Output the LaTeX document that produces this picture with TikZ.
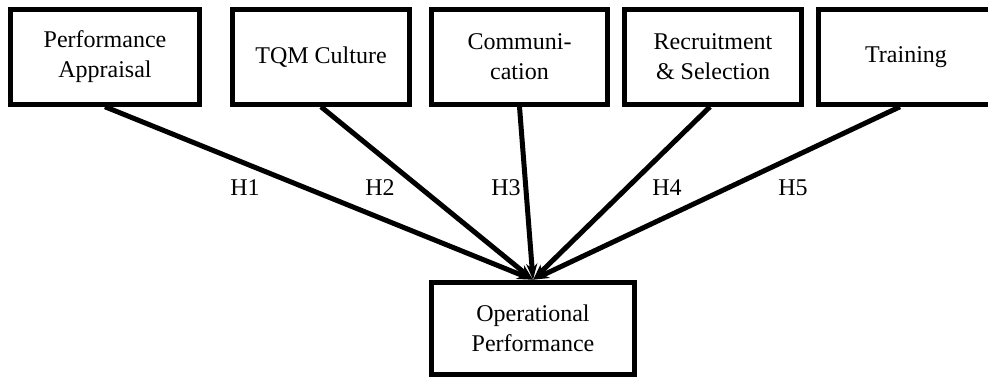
\documentclass[tikz,border=0pt]{standalone}
\usepackage{fontspec}
\setmainfont{Liberation Serif}
\usetikzlibrary{arrows.meta}
\begin{document}
\begin{tikzpicture}[x=1pt,y=-1pt,
  box/.style={draw=black, line width=5pt, fill=white, align=center, inner sep=0pt,
    minimum height=94.5pt, font=\fontsize{24}{30}\selectfont},
  hyp/.style={line width=5pt, -{Stealth[length=16pt,width=11pt,inset=5pt]}},
  hlab/.style={font=\fontsize{24}{28}\selectfont, inner sep=0pt}]
\useasboundingbox (0,0) rectangle (988,380);
\clip (0,0) rectangle (988,380);
\node[box, minimum width=189.5pt] (b1) at (105,57) {Performance\\Appraisal};
\node[box, minimum width=177.5pt] (b2) at (321,57) {TQM Culture};
\node[box, minimum width=176.5pt] (b3) at (519.5,57) {Communi-\\cation};
\node[box, minimum width=177.5pt] (b4) at (713,57) {Recruitment\\\& Selection};
\node[box, minimum width=175.5pt] (b5) at (906,57) {Training};
\node[box, minimum width=203.5pt, minimum height=92.5pt] (op) at (533,328.5) {Operational\\Performance};
\draw[hyp] (b1.south) -- (op.north);
\draw[hyp] (b2.south) -- (op.north);
\draw[hyp] (b3.south) -- (op.north);
\draw[hyp] ([xshift=-3pt]b4.south) -- (op.north);
\draw[hyp] ([xshift=-6pt]b5.south) -- (op.north);
\node[hlab] (h1) at (245,188) {H1};
\node[hlab] (h2) at (380,188) {H2};
\node[hlab] (h3) at (506,188) {H3};
\node[hlab] (h4) at (667,188) {H4};
\node[hlab] (h5) at (793,188) {H5};
\end{tikzpicture}
\end{document}
